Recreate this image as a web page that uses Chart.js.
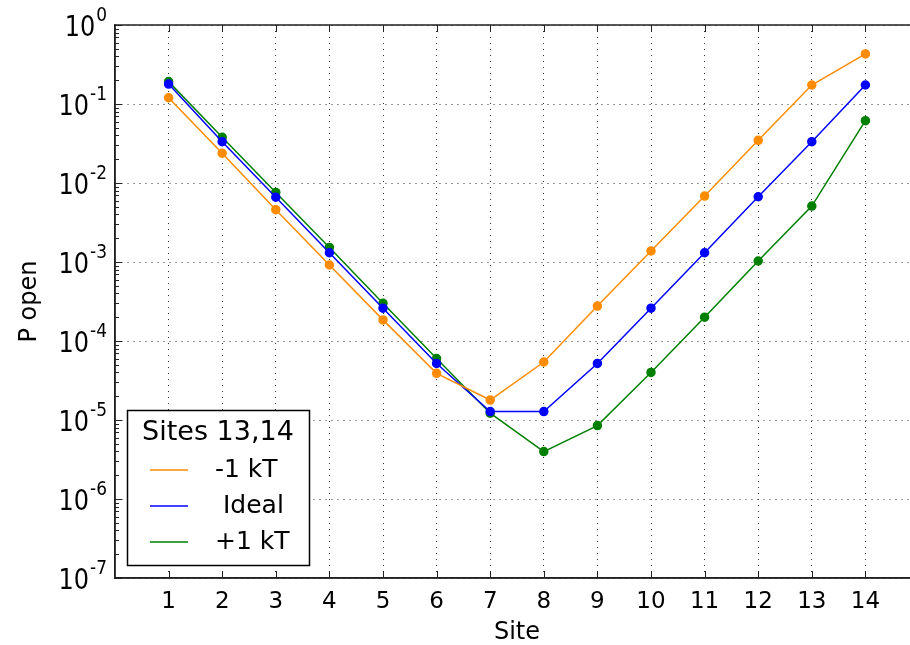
<!DOCTYPE html>
<html>
<head>
<meta charset="utf-8">
<script src="https://cdn.jsdelivr.net/npm/chart.js@4/dist/chart.umd.min.js"></script>
<style>
  html, body { margin: 0; padding: 0; background: #fff; overflow: hidden; }
  canvas { display: block; }
</style>
</head>
<body>
<canvas id="myChart" width="930" height="645"></canvas>
<script>
const sites = [1, 2, 3, 4, 5, 6, 7, 8, 9, 10, 11, 12, 13, 14];
const minusKT = [0.120, 0.0238, 0.00459, 0.000916, 1.85e-4, 3.9e-5, 1.79e-5, 5.42e-5, 2.77e-4, 1.38e-3, 6.84e-3, 0.0347, 0.174, 0.43];
const ideal = [0.179, 0.0333, 6.6e-3, 1.31e-3, 2.6e-4, 5.2e-5, 1.28e-5, 1.28e-5, 5.2e-5, 2.6e-4, 1.31e-3, 6.7e-3, 0.0333, 0.174];
const plusKT = [0.192, 0.0379, 7.6e-3, 1.53e-3, 3.0e-4, 6.0e-5, 1.22e-5, 3.98e-6, 8.5e-6, 4.0e-5, 2.0e-4, 1.03e-3, 5.1e-3, 0.0615];
const yPowers = [-7, -6, -5, -4, -3, -2, -1, 0];
const legendTitle = 'Sites 13,14';

const FONT = 'DejaVu Sans';

function toPoints(values) {
  return values.map((v, i) => ({ x: sites[i], y: v }));
}

function makeSet(label, values, color) {
  return {
    label: label,
    data: toPoints(values),
    borderColor: color,
    backgroundColor: color,
    pointBackgroundColor: color,
    pointBorderColor: color,
    pointRadius: 4,
    borderWidth: 1.5,
    fill: false,
    tension: 0
  };
}

// text stretched a bit vertically, like the mathtext labels
function tallText(ctx, text, x, y, sy) {
  ctx.save();
  ctx.translate(x, y);
  ctx.scale(1, sy);
  ctx.fillText(text, 0, 0);
  ctx.restore();
}

// frame, inward ticks, minor log ticks and 10^n labels like matplotlib
const framePlugin = {
  id: 'frame',
  afterDraw(chart) {
    const ctx = chart.ctx;
    const a = chart.chartArea;
    const xs = chart.scales.x, ys = chart.scales.y;
    ctx.save();
    ctx.strokeStyle = '#222';
    ctx.lineWidth = 1.5;
    ctx.beginPath();
    ctx.moveTo(a.left, a.bottom); ctx.lineTo(a.left, a.top); ctx.lineTo(a.right, a.top);
    ctx.moveTo(a.left, a.bottom); ctx.lineTo(a.right, a.bottom);
    ctx.stroke();
    ctx.lineWidth = 1;
    ctx.beginPath();
    sites.forEach(s => {
      const px = Math.round(xs.getPixelForValue(s)) + 0.5;
      ctx.moveTo(px, a.bottom); ctx.lineTo(px, a.bottom - 7);
      ctx.moveTo(px, a.top); ctx.lineTo(px, a.top + 7);
    });
    yPowers.forEach(p => {
      const py = Math.round(ys.getPixelForValue(Math.pow(10, p))) + 0.5;
      ctx.moveTo(a.left, py); ctx.lineTo(a.left + 7, py);
      if (p < 0) {
        for (let m = 2; m <= 9; m++) {
          const my = Math.round(ys.getPixelForValue(m * Math.pow(10, p))) + 0.5;
          ctx.moveTo(a.left, my); ctx.lineTo(a.left + 4, my);
        }
      }
    });
    ctx.stroke();

    // y tick labels with real superscripts
    ctx.fillStyle = '#000';
    ctx.textBaseline = 'alphabetic';
    ctx.textAlign = 'left';
    yPowers.forEach(p => {
      const py = ys.getPixelForValue(Math.pow(10, p));
      const exp = String(p);
      ctx.font = '17px "' + FONT + '"';
      const ew = ctx.measureText(exp).width;
      ctx.font = '24px "' + FONT + '"';
      const bw = ctx.measureText('10').width;
      const right = a.left - 8;
      const x0 = right - ew - bw - 1;
      tallText(ctx, '10', x0, py + 11, 1.2);
      ctx.font = '17px "' + FONT + '"';
      tallText(ctx, exp, x0 + bw + 1, py - 4, 1.15);
    });
    ctx.restore();
  }
};

// boxed legend in the lower left corner
const legendPlugin = {
  id: 'boxLegend',
  afterDraw(chart) {
    const ctx = chart.ctx;
    const bx = 127, by = 410, bw = 182, bh = 155;
    ctx.save();
    ctx.fillStyle = '#fff';
    ctx.fillRect(bx, by, bw, bh);
    ctx.strokeStyle = '#000';
    ctx.lineWidth = 1.5;
    ctx.strokeRect(bx + 0.5, by + 0.5, bw, bh);
    ctx.fillStyle = '#000';
    ctx.textBaseline = 'middle';
    ctx.textAlign = 'center';
    ctx.font = '27px "' + FONT + '"';
    ctx.fillText(legendTitle, bx + bw / 2, 433);
    ctx.textAlign = 'left';
    ctx.font = '25px "' + FONT + '"';
    const rows = [470, 506, 542];
    chart.data.datasets.forEach((ds, i) => {
      ctx.strokeStyle = ds.borderColor;
      ctx.lineWidth = 1.5;
      ctx.beginPath();
      ctx.moveTo(150, rows[i]); ctx.lineTo(188, rows[i]);
      ctx.stroke();
      ctx.fillText(ds.label, 215, rows[i]);
    });
    ctx.restore();
  }
};

const ctx = document.getElementById('myChart');

const myChart = new Chart(ctx, {
  type: 'line',
  data: {
    datasets: [
      makeSet('-1 kT', minusKT, '#ff8c00'),
      makeSet(' Ideal', ideal, '#0000ff'),
      makeSet('+1 kT', plusKT, '#008000')
    ]
  },
  options: {
    responsive: false,
    maintainAspectRatio: false,
    animation: false,
    devicePixelRatio: 1,
    layout: { padding: { top: 25, right: 11, left: 0, bottom: 0 } },
    plugins: { legend: { display: false }, tooltip: { enabled: false } },
    scales: {
      x: {
        type: 'linear',
        min: 0,
        max: 15,
        afterBuildTicks: scale => { scale.ticks = sites.map(s => ({ value: s })); },
        afterFit: scale => { scale.height = 67; },
        grid: { color: '#333', lineWidth: 1, drawTicks: false },
        border: { display: true, color: '#222', width: 1.5, dash: [1, 5] },
        ticks: { color: '#000', padding: 10, font: { family: FONT, size: 23 }, maxRotation: 0 },
        title: { display: true, text: 'Site', color: '#000', font: { family: FONT, size: 24 }, padding: { top: 0, bottom: -2 } }
      },
      y: {
        type: 'logarithmic',
        min: 1e-7,
        max: 1,
        afterBuildTicks: scale => { scale.ticks = yPowers.map(p => ({ value: Math.pow(10, p) })); },
        afterFit: scale => { scale.width = 115; },
        grid: { color: '#333', lineWidth: 1, drawTicks: false },
        border: { display: true, color: '#222', width: 1.5, dash: [1, 5] },
        ticks: { display: false },
        title: { display: true, text: 'P open', color: '#000', font: { family: FONT, size: 24 }, padding: { top: 15 } }
      }
    }
  },
  plugins: [framePlugin, legendPlugin]
});
</script>
</body>
</html>
